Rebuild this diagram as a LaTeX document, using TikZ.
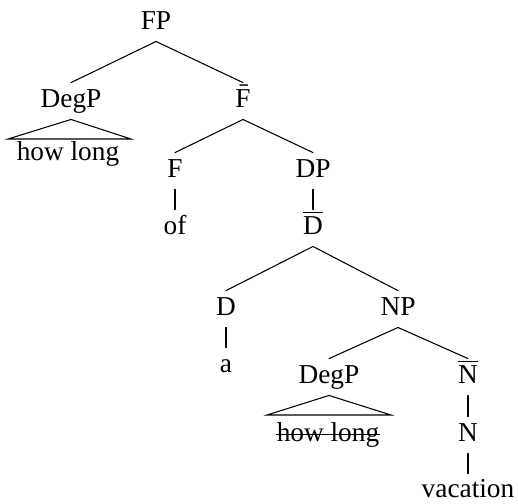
\documentclass[tikz,border=0pt]{standalone}
\usepackage{fontspec}
\setmainfont{Liberation Serif}
\usepackage{tikz}
\usetikzlibrary{calc}

\begin{document}
\begin{tikzpicture}
		[x = 0.377pt, y = -0.377pt,
		label/.style={anchor=base,inner sep=2pt,text height=7pt,text depth=2.5pt,font=\fontsize{10.3}{12}\selectfont},
		branch/.style={black,line width=0.4pt,line cap=round},
		roof/.style={black,line width=0.4pt,line join=miter},
		strike/.style={black,line width=0.4pt,shorten >=2pt,shorten <=2pt}
		]

        \useasboundingbox (0,0) rectangle (518,504);

        % FP and its daughters
        \node[label] (fp) at (156,29) {FP};
        \node[label] (degA) at (71,107) {DegP};
        \node[label] (fbar) at (243,107) {\=F};
        \draw[branch] (fp.south) -- (degA.north);
        \draw[branch] (fp.south) -- (fbar.north);

        %roof over the first how long
        \coordinate (roofAl) at (8,139);
        \coordinate (roofAr) at (131,139);
        \draw[roof] (roofAl) -- (degA.south) -- (roofAr) -- cycle;
        \node[label] (hlA) at (68,160) {how long};

        % F-bar
        \node[label] (f) at (175,177) {F};
        \node[label] (dp) at (313,177) {DP};
        \draw[branch] (fbar.south) -- (f.north);
        \draw[branch] (fbar.south) -- (dp.north);
        \node[label] (of) at (175,234) {of};
        \node[label] (dbar) at (313,234) {$\overline{\mathrm{D}}$};
        \draw[branch] (f.south) -- (of.north);
        \draw[branch] (dp.south) -- (dbar.north);

        % D-bar
        \node[label] (d) at (226,315) {D};
        \node[label] (np) at (398,315) {NP};
        \draw[branch] (dbar.south) -- (d.north);
        \draw[branch] (dbar.south) -- (np.north);
        \node[label] (a) at (226,372) {a};
        \draw[branch] (d.south) -- (a.north);

        % NP
        \node[label] (degB) at (329,383) {DegP};
        \node[label] (nbar) at (468,383) {$\overline{\mathrm{N}}$};
        \draw[branch] (np.south) -- (degB.north);
        \draw[branch] (np.south) -- (nbar.north);

        %roof over the deleted copy
        \coordinate (roofBl) at (267,415);
        \coordinate (roofBr) at (391,415);
        \draw[roof] (roofBl) -- (degB.south) -- (roofBr) -- cycle;
        \node[label] (hlB) at (328,441) {how long};
        \draw[strike] ([yshift=2.6pt]hlB.base west) -- ([yshift=2.6pt]hlB.base east);

        % N-bar down to the noun
        \node[label] (n) at (468,441) {N};
        \node[label] (vac) at (468,498) {vacation};
        \draw[branch] (nbar.south) -- (n.north);
        \draw[branch] (n.south) -- (vac.north);
\end{tikzpicture}
\end{document}
